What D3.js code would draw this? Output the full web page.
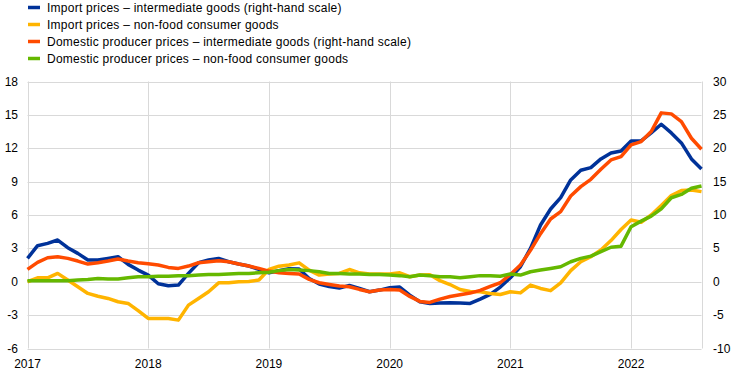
<!DOCTYPE html>
<html>
<head>
<meta charset="utf-8">
<script src="https://cdn.jsdelivr.net/npm/d3@7"></script>
<style>
  body { margin: 0; background: #fff; }
  text { font-family: "Liberation Sans", Arial, sans-serif; font-size: 12px; fill: #000; }
  .legend text { letter-spacing: 0.25px; }
</style>
</head>
<body>
<div id="chart"></div>
<script>
// Monthly data, Jan 2017 - Aug 2022 (annual % changes)
const years = ['2017', '2018', '2019', '2020', '2021', '2022'];
const leftTicks = [-6, -3, 0, 3, 6, 9, 12, 15, 18];
const rightTicks = [-10, -5, 0, 5, 10, 15, 20, 25, 30];

// right-hand scale
const importIntermediate = [
    3.5, 5.4, 5.75, 6.25, 5.1, 4.25, 3.25, 3.25, 3.5, 3.75, 2.6, 1.75,
    1.0, -0.3, -0.6, -0.5, 1.25, 2.85, 3.25, 3.5, 3.0, 2.65, 2.35, 1.85,
    1.35, 1.65, 1.95, 1.9, 0.5, -0.35, -0.7, -0.95, -0.55, -1.0, -1.5, -1.25,
    -0.9, -0.8, -2.0, -3.0, -3.25, -3.2, -3.15, -3.2, -3.25, -2.6, -1.9, -0.8,
    0.6, 2.25, 5.0, 8.5, 10.9, 12.6, 15.25, 16.7, 17.1, 18.4, 19.3, 19.6,
    21.1, 21.1, 22.3, 23.6, 22.3, 20.8, 18.4, 16.9
];
// left-hand scale
const importConsumer = [
    0.0, 0.35, 0.35, 0.75, 0.15, -0.45, -1.05, -1.3, -1.5, -1.8, -1.95, -2.6,
    -3.3, -3.3, -3.3, -3.45, -2.1, -1.5, -0.9, -0.1, -0.1, 0.0, 0.03, 0.15,
    1.1, 1.4, 1.5, 1.7, 1.05, 0.6, 0.7, 0.75, 1.1, 0.8, 0.7, 0.7,
    0.7, 0.8, 0.45, 0.6, 0.62, 0.1, -0.25, -0.7, -0.88, -0.9, -1.05, -1.15,
    -0.9, -1.0, -0.3, -0.6, -0.8, -0.1, 1.0, 1.8, 2.25, 2.85, 3.7, 4.7,
    5.55, 5.35, 6.0, 6.85, 7.75, 8.2, 8.25, 8.1
];
// right-hand scale
const domesticIntermediate = [
    1.85, 2.9, 3.6, 3.75, 3.5, 3.1, 2.65, 2.85, 3.1, 3.4, 3.1, 2.85,
    2.7, 2.5, 2.15, 2.0, 2.35, 2.85, 3.0, 3.15, 3.0, 2.65, 2.35, 2.0,
    1.6, 1.35, 1.25, 1.15, 0.35, -0.15, -0.4, -0.65, -0.75, -1.15, -1.5, -1.25,
    -1.15, -1.25, -2.2, -2.95, -3.1, -2.6, -2.2, -1.95, -1.7, -1.3, -0.7, -0.15,
    1.1, 2.5, 4.7, 7.2, 9.4, 10.5, 12.85, 14.25, 15.35, 16.85, 18.25, 18.75,
    20.5, 21.0, 22.5, 25.3, 25.15, 24.0, 21.5, 19.85
];
// left-hand scale
const domesticConsumer = [
    0.1, 0.1, 0.1, 0.1, 0.1, 0.15, 0.2, 0.3, 0.25, 0.25, 0.35, 0.45,
    0.45, 0.5, 0.5, 0.55, 0.55, 0.6, 0.65, 0.65, 0.7, 0.75, 0.75, 0.8,
    0.85, 1.0, 1.1, 1.05, 1.0, 0.9, 0.75, 0.75, 0.7, 0.7, 0.65, 0.65,
    0.6, 0.55, 0.45, 0.6, 0.55, 0.45, 0.45, 0.35, 0.45, 0.55, 0.55, 0.5,
    0.7, 0.6, 0.9, 1.05, 1.2, 1.35, 1.8, 2.1, 2.3, 2.7, 3.1, 3.2,
    4.95, 5.45, 5.9, 6.55, 7.55, 7.85, 8.4, 8.6
];

const series = [
    { name: 'Import prices \u2013 intermediate goods (right-hand scale)', values: importIntermediate, axis: 'right', color: '#003299' },
    { name: 'Import prices \u2013 non-food consumer goods', values: importConsumer, axis: 'left', color: '#ffb400' },
    { name: 'Domestic producer prices \u2013 intermediate goods (right-hand scale)', values: domesticIntermediate, axis: 'right', color: '#ff4b00' },
    { name: 'Domestic producer prices \u2013 non-food consumer goods', values: domesticConsumer, axis: 'left', color: '#65b800' }
];

const width = 743;
const height = 375;
const plot = { left: 27.5, right: 701.5, top: 81.5, bottom: 348.5 };

const svg = d3.select('#chart')
    .append('svg')
    .attr('width', width)
    .attr('height', height);

const x = d3.scaleLinear()
    .domain([0, importIntermediate.length - 1])
    .range([plot.left, plot.right]);

const yLeft = d3.scaleLinear()
    .domain([-6, 18])
    .range([plot.bottom, plot.top]);

const yRight = d3.scaleLinear()
    .domain([-10, 30])
    .range([plot.bottom, plot.top]);

// horizontal grid
svg.append('g')
    .selectAll('line')
    .data(leftTicks)
    .enter().append('line')
    .attr('x1', plot.left)
    .attr('x2', plot.right)
    .attr('y1', d => Math.round(yLeft(d)) + 0.5)
    .attr('y2', d => Math.round(yLeft(d)) + 0.5)
    .attr('stroke', '#d9d9d9')
    .attr('stroke-width', 1);

// vertical grid: one line per January plus right edge
const vLines = years.map((y, i) => i * 12).concat([importIntermediate.length - 1]);
svg.append('g')
    .selectAll('line')
    .data(vLines)
    .enter().append('line')
    .attr('x1', d => Math.round(x(d)) + 0.5)
    .attr('x2', d => Math.round(x(d)) + 0.5)
    .attr('y1', plot.top)
    .attr('y2', plot.bottom)
    .attr('stroke', '#d9d9d9')
    .attr('stroke-width', 1);

// left axis labels
svg.append('g')
    .selectAll('text')
    .data(leftTicks)
    .enter().append('text')
    .attr('x', 18)
    .attr('y', d => yLeft(d) + 4)
    .attr('text-anchor', 'end')
    .text(d => d);

// right axis labels
svg.append('g')
    .selectAll('text')
    .data(rightTicks)
    .enter().append('text')
    .attr('x', 713)
    .attr('y', d => yRight(d) + 4)
    .attr('text-anchor', 'start')
    .text(d => d);

// year labels
svg.append('g')
    .selectAll('text')
    .data(years)
    .enter().append('text')
    .attr('x', (d, i) => x(i * 12))
    .attr('y', 368)
    .attr('text-anchor', 'middle')
    .text(d => d);

// lines
series.forEach(s => {
    const yScale = s.axis === 'right' ? yRight : yLeft;
    const line = d3.line()
        .x((d, i) => x(i))
        .y(d => yScale(d));
    svg.append('path')
        .datum(s.values)
        .attr('fill', 'none')
        .attr('stroke', s.color)
        .attr('stroke-width', 3.5)
        .attr('stroke-linejoin', 'round')
        .attr('d', line);
});

// legend
const legend = svg.append('g').attr('class', 'legend');
series.forEach((s, i) => {
    const cy = 7.5 + i * 17;
    legend.append('line')
        .attr('x1', 28)
        .attr('x2', 40)
        .attr('y1', cy)
        .attr('y2', cy)
        .attr('stroke', s.color)
        .attr('stroke-width', 3.5);
    legend.append('text')
        .attr('x', 47)
        .attr('y', cy + 4)
        .text(s.name);
});
</script>
</body>
</html>
